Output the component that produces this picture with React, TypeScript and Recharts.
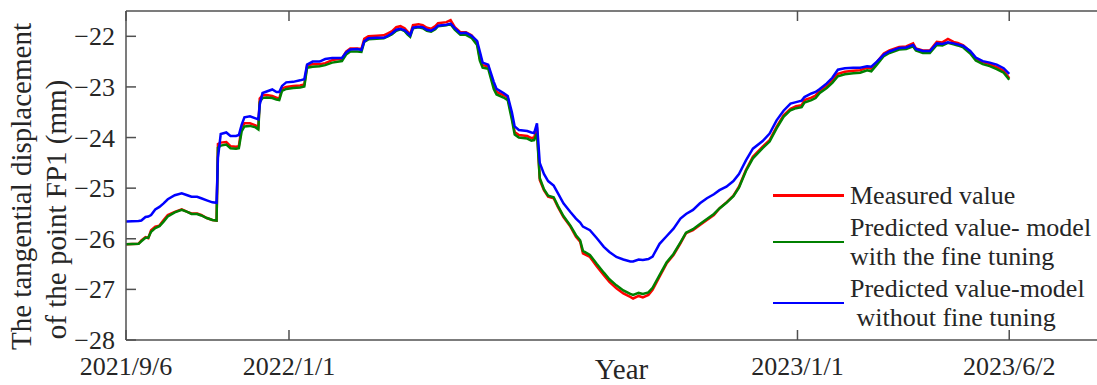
import React from 'react';
import { LineChart, Line, XAxis, YAxis, Legend } from 'recharts';

// Days since 2021/9/6
const days = [
  0, 9, 11, 14, 16, 18, 21, 24, 27, 30,
  35, 40, 44, 47, 51, 54, 58, 62, 65, 66,
  68, 72, 75, 79, 81, 83, 85, 89, 93, 95,
  96, 98, 101, 105, 108, 110, 112, 115, 120, 125,
  128, 130, 134, 139, 143, 148, 155, 158, 161, 166,
  169, 171, 174, 180, 185, 188, 191, 194, 197, 200,
  202, 204, 206, 210, 213, 216, 219, 222, 224, 230,
  233, 236, 240, 244, 248, 252, 254, 256, 260, 264,
  266, 271, 274, 277, 279, 282, 288, 291, 293, 295,
  297, 300, 303, 307, 310, 314, 319, 323, 326, 328,
  333, 338, 343, 347, 352, 357, 362, 364, 368, 371,
  375, 378, 383, 388, 393, 398, 402, 407, 412, 417,
  422, 426, 431, 436, 440, 445, 450, 457, 462, 467,
  472, 477, 481, 485, 487, 492, 495, 498, 503, 507,
  511, 516, 522, 527, 532, 535, 539, 544, 548, 555,
  560, 565, 567, 572, 577, 582, 586, 590, 594, 597,
  601, 606, 610, 615, 620, 625, 630, 634,
];

const measured = [
  -26.11, -26.10, -26.03, -25.97, -25.99, -25.83, -25.76, -25.74, -25.63, -25.53,
  -25.47, -25.42, -25.47, -25.50, -25.50, -25.53, -25.59, -25.63, -25.64, -24.13,
  -24.10, -24.09, -24.17, -24.18, -24.17, -23.79, -23.72, -23.72, -23.76, -23.80,
  -23.23, -23.17, -23.16, -23.18, -23.21, -23.23, -23.03, -23.00, -22.98, -22.97,
  -22.95, -22.57, -22.55, -22.55, -22.53, -22.47, -22.44, -22.30, -22.24, -22.24,
  -22.25, -22.05, -22.00, -21.99, -21.98, -21.94, -21.90, -21.82, -21.80, -21.84,
  -21.90, -21.96, -21.78, -21.76, -21.78, -21.83, -21.85, -21.80, -21.74, -21.72,
  -21.68, -21.82, -21.92, -21.92, -21.98, -22.11, -22.44, -22.57, -22.59, -22.99,
  -23.10, -23.16, -23.21, -23.59, -23.89, -23.95, -23.97, -24.01, -24.00, -23.80,
  -24.84, -25.04, -25.17, -25.20, -25.37, -25.57, -25.76, -25.96, -26.06, -26.29,
  -26.36, -26.55, -26.72, -26.85, -26.98, -27.08, -27.15, -27.18, -27.13, -27.16,
  -27.11, -27.01, -26.75, -26.49, -26.32, -26.09, -25.89, -25.83, -25.73, -25.63,
  -25.53, -25.40, -25.28, -25.15, -24.97, -24.64, -24.38, -24.18, -24.05, -23.79,
  -23.56, -23.43, -23.38, -23.36, -23.26, -23.21, -23.17, -23.07, -22.97, -22.87,
  -22.74, -22.70, -22.68, -22.67, -22.62, -22.64, -22.51, -22.34, -22.28, -22.21,
  -22.20, -22.14, -22.24, -22.28, -22.28, -22.11, -22.12, -22.05, -22.11, -22.13,
  -22.18, -22.30, -22.44, -22.51, -22.55, -22.61, -22.68, -22.83,
];

const withFineTuning = [
  -26.11, -26.10, -26.05, -25.98, -25.98, -25.86, -25.79, -25.75, -25.66, -25.56,
  -25.48, -25.43, -25.47, -25.51, -25.51, -25.54, -25.59, -25.63, -25.64, -24.20,
  -24.16, -24.14, -24.21, -24.22, -24.21, -23.88, -23.78, -23.77, -23.80, -23.84,
  -23.30, -23.22, -23.21, -23.22, -23.25, -23.26, -23.08, -23.04, -23.02, -23.01,
  -22.99, -22.62, -22.60, -22.59, -22.57, -22.52, -22.49, -22.36, -22.30, -22.30,
  -22.31, -22.11, -22.06, -22.05, -22.04, -22.00, -21.96, -21.89, -21.86, -21.90,
  -21.96, -22.01, -21.84, -21.82, -21.84, -21.89, -21.91, -21.86, -21.80, -21.78,
  -21.76, -21.87, -21.97, -21.97, -22.03, -22.17, -22.48, -22.62, -22.64, -23.04,
  -23.15, -23.21, -23.26, -23.65, -23.94, -24.00, -24.02, -24.06, -24.05, -23.92,
  -24.80, -25.02, -25.15, -25.18, -25.35, -25.55, -25.74, -25.93, -26.03, -26.24,
  -26.32, -26.50, -26.67, -26.80, -26.92, -27.02, -27.09, -27.11, -27.07, -27.09,
  -27.06, -26.97, -26.72, -26.47, -26.30, -26.07, -25.88, -25.81, -25.71, -25.61,
  -25.51, -25.40, -25.29, -25.16, -24.99, -24.66, -24.41, -24.21, -24.08, -23.82,
  -23.59, -23.46, -23.42, -23.40, -23.31, -23.26, -23.22, -23.12, -23.02, -22.92,
  -22.79, -22.75, -22.73, -22.72, -22.67, -22.69, -22.56, -22.39, -22.33, -22.26,
  -22.25, -22.20, -22.28, -22.33, -22.33, -22.17, -22.18, -22.13, -22.16, -22.18,
  -22.22, -22.34, -22.48, -22.55, -22.59, -22.65, -22.72, -22.86,
];

const withoutFineTuning = [
  -25.66, -25.65, -25.64, -25.57, -25.56, -25.53, -25.42, -25.37, -25.30, -25.22,
  -25.14, -25.10, -25.14, -25.17, -25.17, -25.20, -25.24, -25.28, -25.29, -24.40,
  -23.93, -23.90, -23.97, -23.97, -23.95, -23.75, -23.60, -23.58, -23.62, -23.64,
  -23.35, -23.12, -23.09, -23.05, -23.10, -23.10, -22.98, -22.91, -22.90, -22.87,
  -22.85, -22.56, -22.50, -22.50, -22.45, -22.43, -22.43, -22.32, -22.26, -22.25,
  -22.27, -22.10, -22.04, -22.03, -22.03, -21.99, -21.94, -21.87, -21.85, -21.88,
  -21.93, -21.98, -21.83, -21.81, -21.82, -21.87, -21.89, -21.84, -21.79, -21.77,
  -21.75, -21.84, -21.94, -21.93, -21.99, -22.09, -22.30, -22.52, -22.56, -22.90,
  -23.04, -23.12, -23.18, -23.50, -23.78, -23.85, -23.87, -23.90, -23.91, -23.72,
  -24.50, -24.72, -24.86, -24.95, -25.10, -25.30, -25.47, -25.60, -25.68, -25.76,
  -25.83, -25.99, -26.16, -26.26, -26.36, -26.41, -26.45, -26.45, -26.41, -26.42,
  -26.40, -26.35, -26.10, -25.95, -25.80, -25.60, -25.51, -25.43, -25.30, -25.20,
  -25.12, -25.04, -24.97, -24.86, -24.72, -24.45, -24.22, -24.07, -23.92, -23.66,
  -23.47, -23.33, -23.30, -23.27, -23.20, -23.13, -23.10, -23.04, -22.93, -22.82,
  -22.66, -22.63, -22.62, -22.62, -22.59, -22.60, -22.50, -22.36, -22.30, -22.23,
  -22.22, -22.17, -22.25, -22.29, -22.29, -22.14, -22.15, -22.12, -22.14, -22.16,
  -22.19, -22.29, -22.42, -22.49, -22.52, -22.56, -22.63, -22.74,
];

const seriesNames = [
  'Measured value',
  'Predicted value- model\nwith the fine tuning',
  'Predicted value-model\n without fine tuning',
];
const seriesColors = ['#ff0000', '#008000', '#0000ff'];

const xTicks = [0, 117, 482, 634];
const xTickLabels = ['2021/9/6', '2022/1/1', '2023/1/1', '2023/6/2'];
const yTicks = [-28, -27, -26, -25, -24, -23, -22];
const xDomain = [0, 697];
const yDomain = [-28, -21.5];
const yLabelLines = ['The tangential displacement', 'of the point FP1 (mm)'];
const xLabel = 'Year';

const rows = days.map((d, i) => ({
  day: d,
  measured: measured[i],
  fine: withFineTuning[i],
  nofine: withoutFineTuning[i],
}));

const FONT = '"Liberation Serif", "Times New Roman", serif';
const AXIS = '#505050';
const TEXT = '#262626';

const fmtX = (v: number) => {
  const i = xTicks.indexOf(v);
  return i >= 0 ? xTickLabels[i] : '';
};
const fmtY = (v: number) => String(v).replace('-', '\u2212');

const BottomTick = (props: any) => (
  <text
    x={props.x}
    y={props.y}
    dy={26}
    textAnchor="middle"
    fill={TEXT}
    style={{ fontFamily: FONT, fontSize: 26 }}
  >
    {fmtX(props.payload.value)}
  </text>
);

const LeftTick = (props: any) => (
  <text
    x={props.x}
    y={props.y}
    dy={9}
    textAnchor="end"
    fill={TEXT}
    style={{ fontFamily: FONT, fontSize: 26 }}
  >
    {fmtY(props.payload.value)}
  </text>
);

const EmptyTick = () => <g />;

const YLabel = (props: any) => {
  const vb = props.viewBox || { x: 0, y: 0, width: 0, height: 0 };
  const cy = vb.y + vb.height / 2;
  const style = { fontFamily: FONT, fontSize: 29 };
  return (
    <g>
      <text
        x={vb.x + 31}
        y={cy + 11}
        transform={`rotate(-90, ${vb.x + 31}, ${cy + 11})`}
        textAnchor="middle"
        fill={TEXT}
        style={style}
      >
        {yLabelLines[0]}
      </text>
      <text
        x={vb.x + 66}
        y={cy + 34}
        transform={`rotate(-90, ${vb.x + 66}, ${cy + 34})`}
        textAnchor="middle"
        fill={TEXT}
        style={style}
      >
        {yLabelLines[1]}
      </text>
    </g>
  );
};

const XLabel = (props: any) => {
  const vb = props.viewBox || { x: 0, y: 0, width: 0, height: 0 };
  return (
    <text
      x={vb.x + vb.width / 2 + 10}
      y={vb.y + 39}
      textAnchor="middle"
      fill={TEXT}
      style={{ fontFamily: FONT, fontSize: 29 }}
    >
      {xLabel}
    </text>
  );
};

const LegendContent = (props: any) => {
  const payload = props.payload || [];
  return (
    <div style={{ fontFamily: FONT, fontSize: 26, color: TEXT }}>
      {payload.map((p: any, i: number) => (
        <div
          key={i}
          style={{ display: 'flex', alignItems: 'center', marginBottom: 3 }}
        >
          <div
            style={{
              width: 71,
              height: 2.5,
              background: p.color,
              marginRight: 6,
              flex: 'none',
            }}
          />
          <div style={{ whiteSpace: 'pre', lineHeight: '29px' }}>{p.value}</div>
        </div>
      ))}
    </div>
  );
};

export default function App() {
  return (
    <div
      style={{
        position: 'absolute',
        left: 0,
        top: 0,
        width: 1097,
        height: 385,
        background: '#ffffff',
        fontFamily: FONT,
      }}
    >
      <LineChart
        width={1097}
        height={385}
        data={rows}
        margin={{ top: 0, right: 0, bottom: 0, left: 0 }}
        style={{ fontFamily: FONT }}
      >
        <XAxis
          xAxisId="bottom"
          dataKey="day"
          type="number"
          domain={xDomain}
          ticks={xTicks}
          height={45}
          tickSize={-10}
          tickMargin={19}
          axisLine={{ stroke: AXIS, strokeWidth: 1.5 }}
          tickLine={{ stroke: AXIS, strokeWidth: 1.5 }}
          tick={BottomTick}
          interval={0}
          allowDataOverflow
          label={XLabel}
        />
        <XAxis
          xAxisId="top"
          orientation="top"
          dataKey="day"
          type="number"
          domain={xDomain}
          ticks={xTicks}
          height={11}
          tickSize={-10}
          axisLine={{ stroke: AXIS, strokeWidth: 1.5 }}
          tickLine={{ stroke: AXIS, strokeWidth: 1.5 }}
          tick={EmptyTick}
          interval={0}
          allowDataOverflow
        />
        <YAxis
          yAxisId="left"
          type="number"
          domain={yDomain}
          ticks={yTicks}
          width={126}
          tickSize={-10}
          tickMargin={21}
          axisLine={{ stroke: AXIS, strokeWidth: 1.5 }}
          tickLine={{ stroke: AXIS, strokeWidth: 1.5 }}
          tick={LeftTick}
          interval={0}
          allowDataOverflow
          label={YLabel}
        />
        <YAxis
          yAxisId="right"
          orientation="right"
          type="number"
          domain={yDomain}
          ticks={yTicks}
          width={0}
          tickSize={-8}
          axisLine={{ stroke: AXIS, strokeWidth: 1.5 }}
          tickLine={{ stroke: AXIS, strokeWidth: 1.5 }}
          tick={EmptyTick}
          interval={0}
          allowDataOverflow
        />
        <Legend
          layout="horizontal"
          align="center"
          verticalAlign="middle"
          content={LegendContent}
          wrapperStyle={{ position: 'absolute', left: 773, top: 181, width: 322, height: 150 }}
        />
        <Line
          xAxisId="bottom"
          yAxisId="left"
          type="linear"
          dataKey="measured"
          name={seriesNames[0]}
          stroke={seriesColors[0]}
          strokeWidth={2.5}
          dot={false}
          activeDot={false}
          isAnimationActive={false}
        />
        <Line
          xAxisId="bottom"
          yAxisId="left"
          type="linear"
          dataKey="fine"
          name={seriesNames[1]}
          stroke={seriesColors[1]}
          strokeWidth={2.5}
          dot={false}
          activeDot={false}
          isAnimationActive={false}
        />
        <Line
          xAxisId="bottom"
          yAxisId="left"
          type="linear"
          dataKey="nofine"
          name={seriesNames[2]}
          stroke={seriesColors[2]}
          strokeWidth={2.5}
          dot={false}
          activeDot={false}
          isAnimationActive={false}
        />
      </LineChart>
    </div>
  );
}
